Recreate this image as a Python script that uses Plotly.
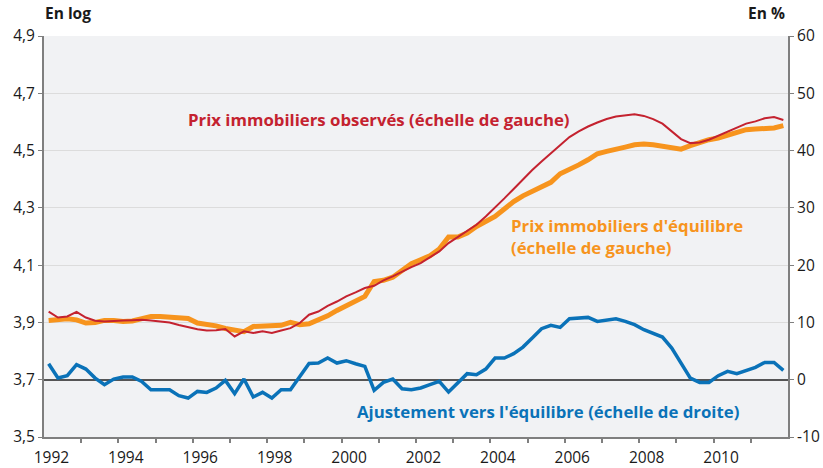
import plotly.graph_objects as go

# Quarterly data, 1992Q1 .. 2011Q4
start_year = 1992
observed = [3.938, 3.917, 3.921, 3.937, 3.917, 3.906, 3.903, 3.906, 3.907, 3.908,
            3.909, 3.907, 3.903, 3.900, 3.891, 3.883, 3.876, 3.872, 3.873, 3.877,
            3.851, 3.869, 3.863, 3.869, 3.863, 3.872, 3.880, 3.898, 3.927, 3.938,
            3.958, 3.973, 3.991, 4.005, 4.020, 4.028, 4.047, 4.061, 4.078, 4.093,
            4.107, 4.128, 4.148, 4.177, 4.198, 4.218, 4.241, 4.270, 4.300, 4.333,
            4.366, 4.400, 4.432, 4.462, 4.491, 4.520, 4.547, 4.567, 4.584, 4.598,
            4.610, 4.619, 4.624, 4.627, 4.621, 4.610, 4.594, 4.567, 4.540, 4.526,
            4.528, 4.538, 4.552, 4.565, 4.579, 4.594, 4.602, 4.613, 4.617, 4.607]
equilibrium = [3.907, 3.912, 3.913, 3.909, 3.898, 3.900, 3.907, 3.907, 3.903, 3.905,
               3.913, 3.921, 3.921, 3.919, 3.916, 3.914, 3.898, 3.895, 3.888, 3.879,
               3.875, 3.868, 3.886, 3.888, 3.892, 3.890, 3.900, 3.892, 3.895, 3.907,
               3.923, 3.942, 3.958, 3.973, 3.991, 4.043, 4.047, 4.058, 4.084, 4.105,
               4.119, 4.133, 4.156, 4.198, 4.198, 4.212, 4.235, 4.253, 4.270, 4.296,
               4.322, 4.342, 4.357, 4.372, 4.389, 4.419, 4.433, 4.450, 4.468, 4.489,
               4.497, 4.503, 4.512, 4.520, 4.523, 4.520, 4.514, 4.512, 4.505, 4.517,
               4.528, 4.538, 4.544, 4.553, 4.565, 4.573, 4.575, 4.576, 4.579, 4.587]
adjustment = [2.79, 0.29, 0.70, 2.62, 1.86, 0.29, -0.87, 0.12, 0.47, 0.47,
              -0.29, -1.75, -1.75, -1.75, -2.79, -3.20, -2.04, -2.21, -1.45, -0.12,
              -2.44, 0.12, -3.02, -2.21, -3.20, -1.75, -1.75, 0.62, 2.85, 2.91,
              3.78, 2.91, 3.32, 2.79, 2.33, -1.86, -0.47, 0.12, -1.57, -1.75,
              -1.45, -0.87, -0.29, -2.15, -0.47, 1.05, 0.87, 1.86, 3.78, 3.78,
              4.54, 5.70, 7.27, 8.90, 9.50, 9.13, 10.65, 10.77, 10.88, 10.18,
              10.35, 10.65, 10.18, 9.60, 8.73, 8.15, 7.45, 5.53, 2.91, 0.29,
              -0.47, -0.47, 0.70, 1.45, 1.05, 1.57, 2.15, 3.02, 3.02, 1.62]

left_ticks = [3.5, 3.7, 3.9, 4.1, 4.3, 4.5, 4.7, 4.9]
left_labels = ["3,5", "3,7", "3,9", "4,1", "4,3", "4,5", "4,7", "4,9"]
right_ticks = [-10, 0, 10, 20, 30, 40, 50, 60]
right_labels = ["-10", "0", "10", "20", "30", "40", "50", "60"]
year_labels = ["1992", "1994", "1996", "1998", "2000", "2002", "2004", "2006", "2008", "2010"]

n = len(observed)
x = [start_year + (i + 0.5) / 4 for i in range(n)]

RED = "#c4222f"
ORANGE = "#f7941d"
BLUE = "#0a72b8"
FONT = "Open Sans"
ANN_SIZE = 16.8

fig = go.Figure()
fig.add_trace(go.Scatter(x=x, y=adjustment, mode="lines", yaxis="y2",
                         line=dict(color=BLUE, width=3.5), showlegend=False))
fig.add_trace(go.Scatter(x=x, y=equilibrium, mode="lines",
                         line=dict(color=ORANGE, width=5), showlegend=False))
fig.add_trace(go.Scatter(x=x, y=observed, mode="lines",
                         line=dict(color=RED, width=2), showlegend=False))

axis_col = "#7f7f7f"
fig.update_layout(
    width=823, height=468, autosize=False,
    margin=dict(l=44, r=35, t=36, b=31, autoexpand=False),
    paper_bgcolor="white", plot_bgcolor="#f1f2f4",
    font=dict(family=FONT, size=15, color="#1a1a1a"),
    xaxis=dict(range=[1992, 2012], showgrid=False, zeroline=False, automargin=False,
               showline=True, linecolor=axis_col, linewidth=2,
               tickmode="array",
               tickvals=[int(y) + 0.2 for y in year_labels], ticktext=year_labels,
               ticks="", ticklabelstandoff=5, tickfont=dict(size=15.5),
               minor=dict(tickmode="array", tickvals=list(range(1993, 2012)),
                          ticks="outside", ticklen=4, tickcolor=axis_col, tickwidth=1.5,
                          showgrid=False)),
    yaxis=dict(range=[3.5, 4.9], tickmode="array", tickvals=left_ticks, ticktext=left_labels,
               showgrid=True, gridcolor="#dcdcdc", gridwidth=1, zeroline=False,
               automargin=False, showline=True, linecolor=axis_col, linewidth=2,
               ticks="outside", ticklen=4, tickcolor=axis_col, tickfont=dict(size=15.5)),
    yaxis2=dict(range=[-10, 60], overlaying="y", side="right", tickmode="array",
                tickvals=right_ticks, ticktext=right_labels, showgrid=False,
                zeroline=True, zerolinecolor="#555555", zerolinewidth=1.5,
                automargin=False, showline=True, linecolor=axis_col, linewidth=2,
                ticks="outside", ticklen=4, tickcolor=axis_col, tickfont=dict(size=15.5)),
)

L, R, T, B = 44, 788, 36, 437


def px(xp):
    return (xp - L) / (R - L)


def py(yp):
    return (B - yp) / (B - T)


anns = [
    dict(text="<b>En log</b>", x=px(43), y=py(13), xanchor="left", size=15.5),
    dict(text="<b>En %</b>", x=px(787), y=py(13), xanchor="right", size=15.5),
    dict(text="<b>Prix immobiliers observés (échelle de gauche)</b>", x=px(186), y=py(119),
         xanchor="left", color=RED),
    dict(text="<b>Prix immobiliers d'équilibre<br>(échelle de gauche)</b>", x=px(509), y=py(236),
         xanchor="left", align="left", color=ORANGE),
    dict(text="<b>Ajustement vers l'équilibre (échelle de droite)</b>", x=px(355), y=py(411),
         xanchor="left", color=BLUE),
]
for a in anns:
    size = a.pop("size", ANN_SIZE)
    color = a.pop("color", "#1a1a1a")
    fig.add_annotation(xref="paper", yref="paper", yanchor="middle", showarrow=False,
                       font=dict(family=FONT, size=size, color=color), **a)

fig.write_html("out.html", config={"displayModeBar": False},
               post_script="document.body.style.margin='0';document.body.style.overflow='hidden';")
